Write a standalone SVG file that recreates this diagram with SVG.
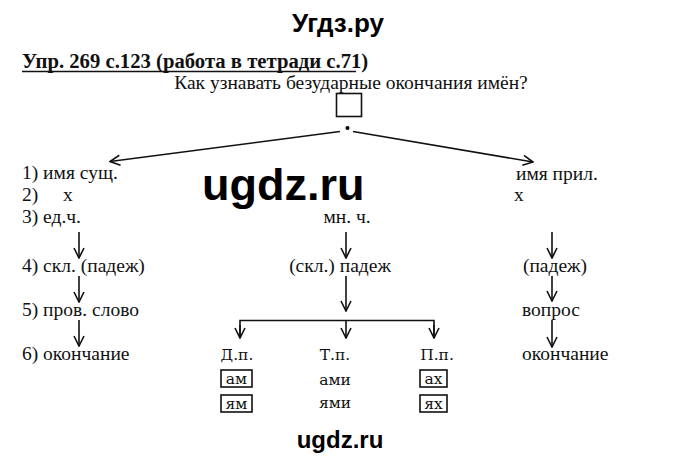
<svg xmlns="http://www.w3.org/2000/svg" width="680" height="460" viewBox="0 0 680 460">
<style>
.t{font-family:"Liberation Serif","Times New Roman",serif;font-size:19.5px;fill:#111}
.h{font-family:"Liberation Serif","Times New Roman",serif;font-size:20.7px;font-weight:bold;fill:#111}
.b{font-family:"DejaVu Serif",serif;font-size:15.5px;fill:#111}
.wm{font-family:"Liberation Sans",Arial,sans-serif;font-weight:bold;fill:#000}
.c{stroke:#111;stroke-width:1.6;fill:none}
.bx{stroke:#111;stroke-width:1.6;fill:none}
</style>
<defs>
<marker id="ah" viewBox="0 0 12 12" refX="11" refY="6" markerWidth="12" markerHeight="12" markerUnits="userSpaceOnUse" orient="auto">
<path d="M1,1 L11,6 L1,11" stroke="#111" stroke-width="1.6" fill="none"/>
</marker>
</defs>
<rect width="680" height="460" fill="#fff"/>

<g id="watermark-top"><text class="wm" x="338" y="32" font-size="26" text-anchor="middle">Угдз.ру</text></g>
<g id="title">
<text class="h" x="22" y="68">Упр. 269 с.123 (работа в тетради с.71)</text>
<line x1="22" y1="71.5" x2="356" y2="71.5" stroke="#111" stroke-width="1.5"/>
</g>
<g id="question"><text class="t" x="351" y="89" text-anchor="middle">Как узнавать безударные окончания имён?</text></g>
<g id="root">
<rect class="bx" x="336.5" y="93.5" width="25" height="23"/>
<circle cx="347.5" cy="128" r="2"/>
</g>

<g id="connectors">
<line class="c" x1="340" y1="131.5" x2="110" y2="161.5" marker-end="url(#ah)"/>
<line class="c" x1="353" y1="131.5" x2="533" y2="162" marker-end="url(#ah)"/>
<line class="c" x1="79" y1="232" x2="79" y2="258" marker-end="url(#ah)"/>
<line class="c" x1="79" y1="276" x2="79" y2="302" marker-end="url(#ah)"/>
<line class="c" x1="79" y1="320" x2="79" y2="346" marker-end="url(#ah)"/>
<line class="c" x1="346" y1="232" x2="346" y2="258" marker-end="url(#ah)"/>
<line class="c" x1="346" y1="276" x2="346" y2="311" marker-end="url(#ah)"/>
<polyline class="c" points="240,338 240,320.5 434,320.5 434,338"/>
<line class="c" x1="240" y1="325" x2="240" y2="338" marker-end="url(#ah)"/>
<line class="c" x1="346" y1="320.5" x2="346" y2="338" marker-end="url(#ah)"/>
<line class="c" x1="434" y1="325" x2="434" y2="338" marker-end="url(#ah)"/>
<line class="c" x1="552" y1="232" x2="552" y2="258" marker-end="url(#ah)"/>
<line class="c" x1="552" y1="276" x2="552" y2="301" marker-end="url(#ah)"/>
<line class="c" x1="552" y1="320" x2="552" y2="347" marker-end="url(#ah)"/>
</g>

<g id="noun">
<text class="t" x="22" y="179">1) имя сущ.</text>
<text class="t" x="22" y="201">2)</text>
<text class="t" x="63" y="201">x</text>
<text class="t" x="22" y="223">3) ед.ч.</text>
<text class="t" x="22" y="272">4) скл. (падеж)</text>
<text class="t" x="22" y="316">5) пров. слово</text>
<text class="t" x="22" y="360">6) окончание</text>
</g>

<g id="plural">
<text class="t" x="347" y="223" text-anchor="middle">мн. ч.</text>
<text class="t" x="340" y="272" text-anchor="middle">(скл.) падеж</text>
</g>

<g id="dative">
<text class="b" x="237" y="360" text-anchor="middle">Д.п.</text>
<rect class="bx" x="221" y="370" width="31" height="17"/>
<text class="b" x="236.5" y="384" text-anchor="middle">ам</text>
<rect class="bx" x="221" y="395" width="31" height="17"/>
<text class="b" x="236.5" y="409" text-anchor="middle">ям</text>
</g>

<g id="instrumental">
<text class="b" x="335" y="360" text-anchor="middle">Т.п.</text>
<text class="b" x="335" y="385" text-anchor="middle">ами</text>
<text class="b" x="335" y="408" text-anchor="middle">ями</text>
</g>

<g id="prepositional">
<text class="b" x="437" y="360" text-anchor="middle">П.п.</text>
<rect class="bx" x="420" y="370" width="27" height="17"/>
<text class="b" x="433.5" y="384" text-anchor="middle">ах</text>
<rect class="bx" x="420" y="395" width="27" height="17"/>
<text class="b" x="433.5" y="409" text-anchor="middle">ях</text>
</g>

<g id="adjective">
<text class="t" x="516" y="180">имя прил.</text>
<text class="t" x="514" y="201">x</text>
<text class="t" x="555" y="272" text-anchor="middle">(падеж)</text>
<text class="t" x="522" y="316">вопрос</text>
<text class="t" x="522" y="360">окончание</text>
</g>

<g id="watermark-mid"><text class="wm" x="202" y="200" font-size="45">ugdz.ru</text></g>
<g id="watermark-bottom"><text class="wm" x="340" y="448" font-size="24" text-anchor="middle">ugdz.ru</text></g>
</svg>
